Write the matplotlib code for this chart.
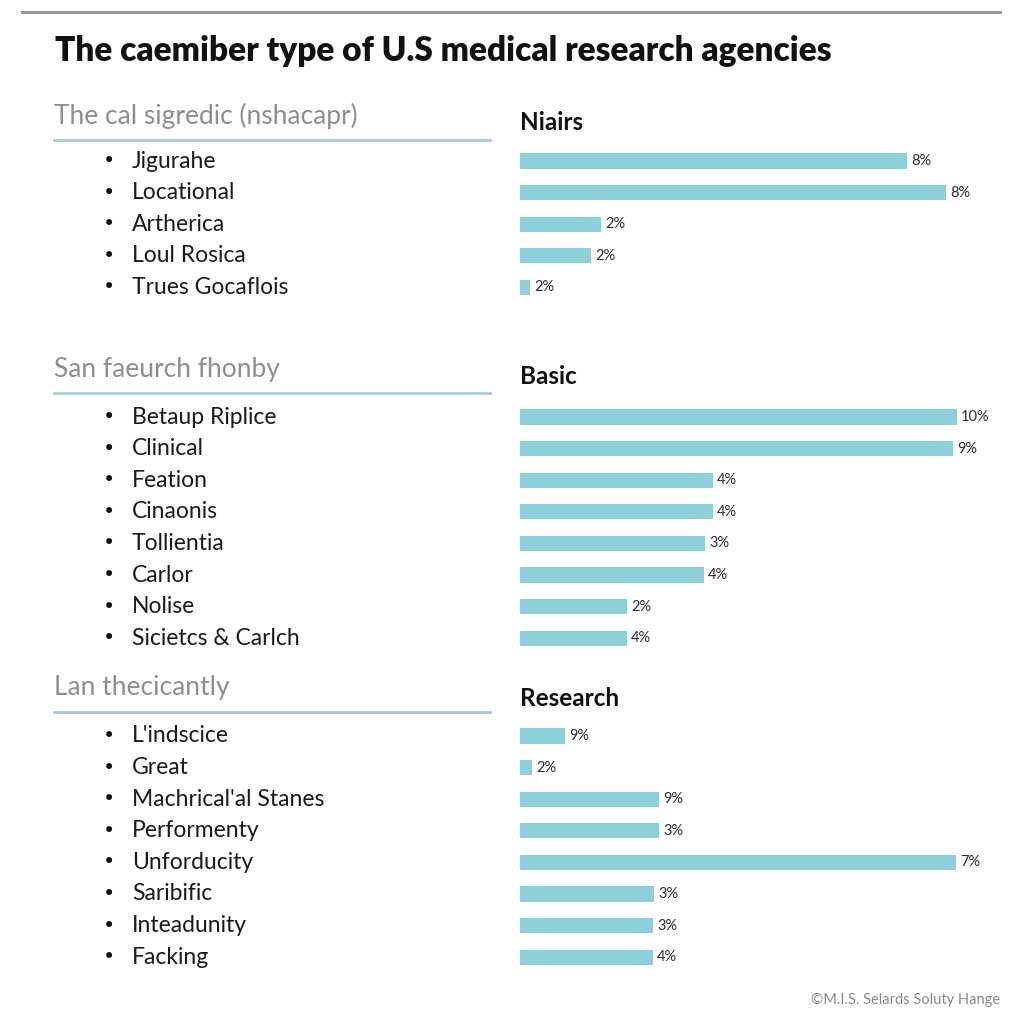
import matplotlib
matplotlib.use("Agg")
import matplotlib.pyplot as plt
from matplotlib.lines import Line2D

# ---------------- data ----------------
title = "The caemiber type of U.S medical research agencies"
footer = "©M.I.S. Selards Soluty Hange"

section_subtitles = ["The cal sigredic (nshacapr)", "San faeurch fhonby", "Lan thecicantly"]
section_headers = ["Niairs", "Basic", "Research"]

items_1 = ["Jigurahe", "Locational", "Artherica", "Loul Rosica", "Trues Gocaflois"]
items_2 = ["Betaup Riplice", "Clinical", "Feation", "Cinaonis", "Tollientia",
           "Carlor", "Nolise", "Sicietcs & Carlch"]
items_3 = ["L'indscice", "Great", "Machrical'al Stanes", "Performenty", "Unforducity",
           "Saribific", "Inteadunity", "Facking"]

# bar lengths (as drawn) and their printed labels
bars_1 = [38.7, 42.6, 8.1, 7.1, 1.0]
bars_2 = [43.7, 43.3, 19.3, 19.3, 18.5, 18.4, 10.7, 10.7]
bars_3 = [4.5, 1.2, 13.9, 13.9, 43.6, 13.4, 13.3, 13.3]

labels_1 = ["8%", "8%", "2%", "2%", "2%"]
labels_2 = ["10%", "9%", "4%", "4%", "3%", "4%", "2%", "4%"]
labels_3 = ["9%", "2%", "9%", "3%", "7%", "3%", "3%", "4%"]

# ---------------- layout ----------------
W = H = 1024
fig = plt.figure(figsize=(10.24, 10.24), dpi=100)
fig.patch.set_facecolor("white")

def fx(x):
    return x / W

def fy(y):
    return 1 - y / H

BAR_COLOR = "#8dd0dc"
FONT = "Lato"

# top grey rule
fig.add_artist(Line2D([fx(22), fx(1000)], [fy(12), fy(12)], color="#9a9a9a", lw=2.2))

fig.text(fx(55), fy(51), title, fontsize=24, fontweight="heavy", family=FONT,
         color="#111111", va="center", ha="left")

groups = [
    (items_1, bars_1, labels_1, 161, 116, 140, 122),
    (items_2, bars_2, labels_2, 417, 369, 393, 376),
    (items_3, bars_3, labels_3, 736, 688, 712, 698),
]
SPACING = 31.6
X0, X1 = 520, 1000
XMAX = (X1 - X0) / 10.0

for gi, (items, bars, labels, first_y, sub_y, line_y, head_y) in enumerate(groups):
    n = len(items)
    # left subtitle and rule
    fig.text(fx(54), fy(sub_y), section_subtitles[gi], fontsize=19, family=FONT,
             color="#8f8f8f", va="center", ha="left")
    fig.add_artist(Line2D([fx(54), fx(490)], [fy(line_y), fy(line_y)],
                          color="#a8cad6", lw=2))
    # right header
    fig.text(fx(520), fy(head_y), section_headers[gi], fontsize=17.5, fontweight="bold",
             family=FONT, color="#111111", va="center", ha="left")
    # bullet list
    for i, it in enumerate(items):
        yy = first_y + i * SPACING
        fig.text(fx(103), fy(yy), "•", fontsize=15, color="#111111",
                 va="center", ha="left", family="DejaVu Sans")
        fig.text(fx(132), fy(yy), it, fontsize=16.5, family=FONT,
                 color="#1a1a1a", va="center", ha="left")
    # bars axes
    top = first_y - SPACING / 2
    bottom = first_y + (n - 1) * SPACING + SPACING / 2
    ax = fig.add_axes([fx(X0), fy(bottom), fx(X1 - X0), (bottom - top) / H])
    ypos = list(range(n))
    ax.barh(ypos, bars, height=0.48, color=BAR_COLOR, left=0)
    for i, (v, lab) in enumerate(zip(bars, labels)):
        ax.text(v + 0.4, i, lab, va="center", ha="left", fontsize=10.5,
                family=FONT, color="#2e2e2e")
    ax.set_xlim(0, XMAX)
    ax.set_ylim(n - 0.5, -0.5)
    ax.axis("off")

fig.text(fx(1000), fy(1000), footer, fontsize=10.5, family=FONT, color="#8a8a8a",
         va="center", ha="right")

fig.savefig("out.png", dpi=100, facecolor="white")
